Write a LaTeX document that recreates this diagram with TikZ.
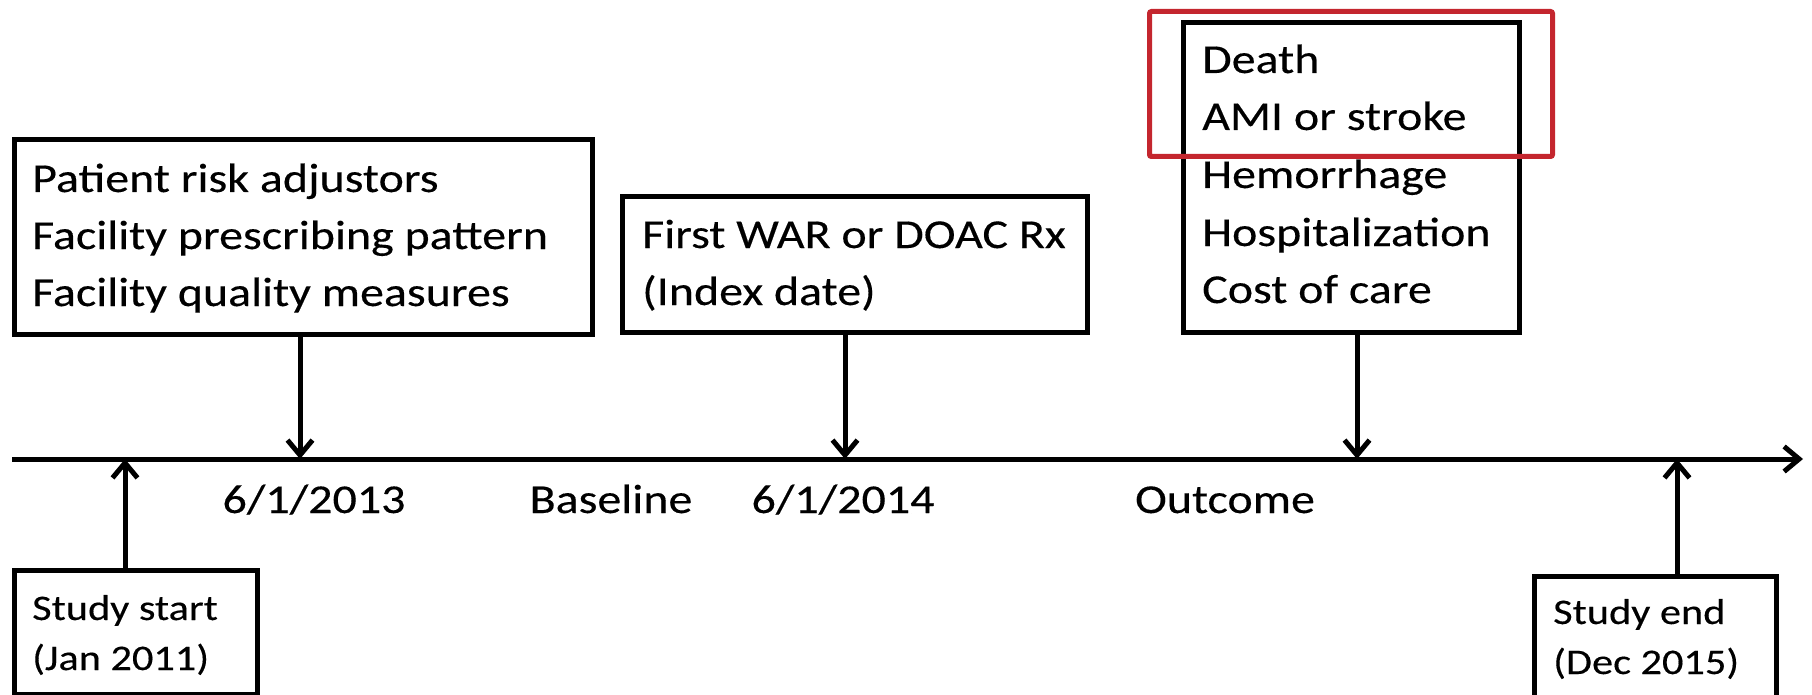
\documentclass[tikz,border=0pt]{standalone}
\usepackage{fontspec}
\setmainfont{Carlito}
\newfontfamily\bigcal[FakeStretch=1.17,FakeBold=0.3]{Carlito}
\newfontfamily\smallcal[FakeStretch=1.175,FakeBold=0.3]{Carlito}
\usetikzlibrary{arrows.meta}
\definecolor{hired}{RGB}{196,38,46}
\tikzset{
  box/.style={draw, line width=5pt, anchor=north west, inner sep=0pt},
  bigtxt/.style={anchor=base west, inner sep=0pt, font=\bigcal\fontsize{41}{57}\selectfont},
  smalltxt/.style={anchor=base west, inner sep=0pt, font=\smallcal\fontsize{36}{50}\selectfont},
  lbl/.style={anchor=base, inner sep=0pt, font=\bigcal\fontsize{41}{57}\selectfont},
  arr/.style={line width=5pt, -{Straight Barb[length=15pt,width=25pt]}},
  hilite/.style={draw=hired, line width=5pt, rounded corners=2pt, anchor=north west, inner sep=0pt}
}
\begin{document}
\begin{tikzpicture}[x=1pt,y=-1pt]
\useasboundingbox (0,0) rectangle (1812,695);
\clip (0,0) rectangle (1812,695);

% axis
\coordinate (a0) at (12,459);
\coordinate (a1) at (1803,459);
\coordinate (t1) at (300,459);
\coordinate (t2) at (845,459);
\coordinate (t3) at (1357,459);
\coordinate (t4) at (125,459);
\coordinate (t5) at (1677,459);
\draw[arr] (a0) -- (a1);

% box 1
\node[box, minimum width=578pt, minimum height=195pt] (b1) at (12,137) {};
\node[bigtxt] (b1l1) at (32,192) {Patient risk adjustors};
\node[bigtxt] (b1l2) at (32,249) {Facility prescribing pattern};
\node[bigtxt] (b1l3) at (32,306) {Facility quality measures};

% box 2
\node[box, minimum width=465pt, minimum height=136pt] (b2) at (620,194) {};
\node[bigtxt] (b2l1) at (642,248) {First WAR or DOAC Rx};
\node[bigtxt] (b2l2) at (642,305) {(Index date)};

% box 3
\node[box, minimum width=336pt, minimum height=310pt] (b3) at (1181,20) {};
\node[bigtxt] (b3l1) at (1202,73) {Death};
\node[bigtxt] (b3l2) at (1202,130) {AMI or stroke};
\node[bigtxt] (b3l3) at (1202,188) {Hemorrhage};
\node[bigtxt] (b3l4) at (1202,246) {Hospitalization};
\node[bigtxt] (b3l5) at (1202,303) {Cost of care};

% highlight
\draw[gray, opacity=0.25, line width=4pt, rounded corners=2pt] (1149,12) rectangle (1552,157);
\node[hilite, minimum width=403pt, minimum height=145pt] (red) at (1147,9) {};

% box 4
\node[box, minimum width=243pt, minimum height=124pt] (b4) at (12,568) {};
\node[smalltxt] (b4l1) at (32,620) {Study start};
\node[smalltxt] (b4l2) at (32,670) {(Jan 2011)};

% box 5
\node[box, minimum width=242pt, minimum height=140pt] (b5) at (1532,574) {};
\node[smalltxt] (b5l1) at (1553,624) {Study end};
\node[smalltxt] (b5l2) at (1553,674) {(Dec 2015)};

% arrows
\draw[arr] (b1.south -| t1) -- (t1);
\draw[arr] (b2.south -| t2) -- (t2);
\draw[arr] (b3.south -| t3) -- (t3);
\draw[arr] (b4.north -| t4) -- (t4);
\draw[arr] (b5.north -| t5) -- (t5);

% axis labels
\node[lbl] (d1) at (314,513) {6/1/2013};
\node[lbl] (bl) at (611,513) {Baseline};
\node[lbl] (d2) at (843,513) {6/1/2014};
\node[lbl] (oc) at (1225,513) {Outcome};
\end{tikzpicture}
\end{document}
